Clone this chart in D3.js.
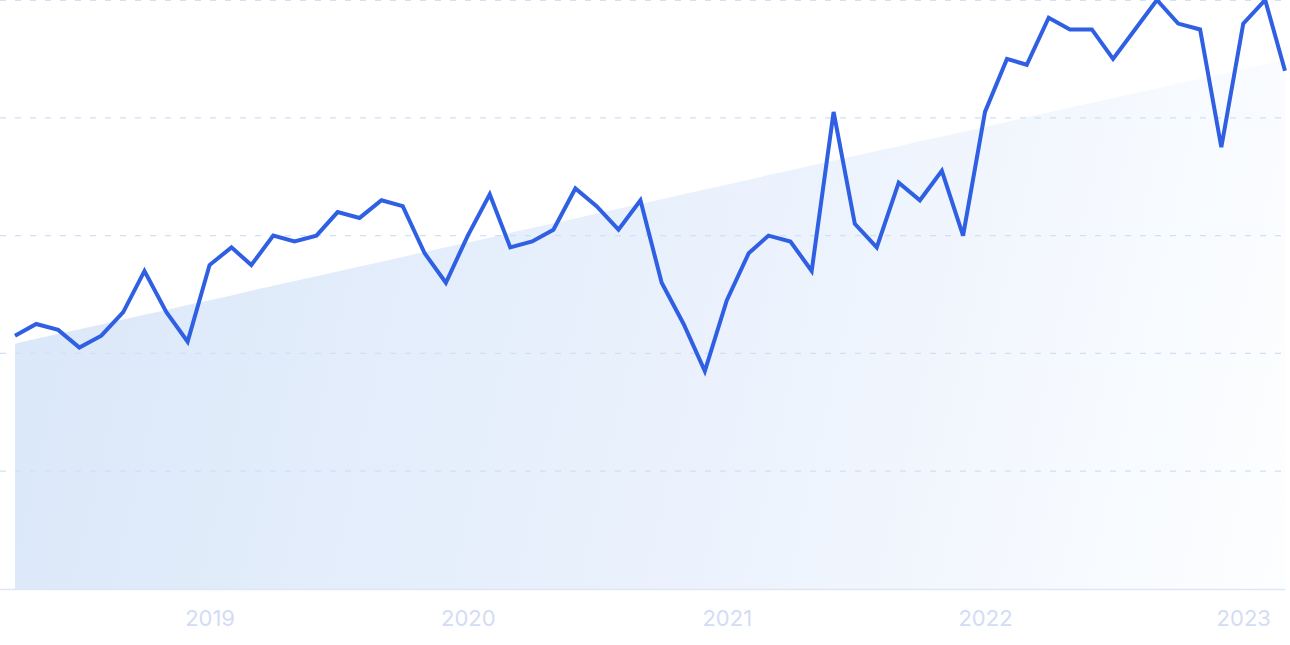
<!DOCTYPE html>
<html>
<head>
<meta charset="utf-8">
<script src="https://cdn.jsdelivr.net/npm/d3@7"></script>
<style>
  html, body { margin: 0; padding: 0; background: #ffffff; }
  svg { display: block; }
</style>
</head>
<body>
<svg id="chart" width="1290" height="645"></svg>
<script>
// ---- Data ----
const startMonth = "2018-04";
const values = [
  43, 45, 44, 41, 43, 47, 54, 47, 42,
  55, 58, 55, 60, 59, 60, 64, 63, 66, 65, 57, 52, 60,
  67, 58, 59, 61, 68, 65, 61, 66, 52, 45, 37, 49,
  57, 60, 59, 54, 81, 62, 58, 69, 66, 71, 60, 81,
  90, 89, 97, 95, 95, 90, 95, 100, 96, 95, 75, 96,
  100, 88
];
const tickLabels = ["2019", "2020", "2021", "2022", "2023"];
const gridValues = [20, 40, 60, 80, 100];

(function () {
// ---- Build ----
const parse = d3.timeParse("%Y-%m");
const t0 = parse(startMonth);
const data = values.map((v, i) => ({ date: d3.timeMonth.offset(t0, i), value: v, i }));

const padL = 15, padR = 1285, padT = 0, padB = 589;

const x = d3.scaleTime()
  .domain(d3.extent(data, d => d.date))
  .range([padL, padR]);
const y = d3.scaleLinear().domain([0, 100]).range([padB, padT]);

const svg = d3.select("#chart");
const defs = svg.append("defs");
const grad = defs.append("linearGradient")
  .attr("id", "areaGrad")
  .attr("gradientUnits", "userSpaceOnUse")
  .attr("x1", padL).attr("y1", 300)
  .attr("x2", padR).attr("y2", padB);
grad.append("stop").attr("offset", "0%").attr("stop-color", "#dbe8f9");
grad.append("stop").attr("offset", "55%").attr("stop-color", "#ebf2fd");
grad.append("stop").attr("offset", "100%").attr("stop-color", "#fdfeff");

// Linear regression trend
const mx = d3.mean(data, d => d.i), my = d3.mean(data, d => d.value);
const slope = d3.sum(data, d => (d.i - mx) * (d.value - my)) / d3.sum(data, d => (d.i - mx) ** 2);
const intercept = my - slope * mx;
const trend = data.map(d => ({ date: d.date, value: intercept + slope * d.i }));

svg.append("path")
  .datum(trend)
  .attr("fill", "url(#areaGrad)")
  .attr("d", d3.area().x(d => x(d.date)).y0(padB).y1(d => y(d.value)));

// Gridlines
svg.append("g").selectAll("line")
  .data(gridValues)
  .join("line")
  .attr("x1", 0).attr("x2", padR)
  .attr("y1", d => y(d) + (d === 100 ? 0.5 : 0)).attr("y2", d => y(d) + (d === 100 ? 0.5 : 0))
  .attr("stroke", "#cfe0f7")
  .attr("stroke-width", 1.2)
  .attr("stroke-dasharray", "6 9");

// Baseline
svg.append("line")
  .attr("x1", 0).attr("x2", padR)
  .attr("y1", padB + 0.5).attr("y2", padB + 0.5)
  .attr("stroke", "#dfe6f7").attr("stroke-width", 1.5);

// X axis labels
const xAxis = d3.axisBottom(x)
  .tickValues(tickLabels.map(s => d3.timeParse("%Y")(s)))
  .tickFormat(d3.timeFormat("%Y"))
  .tickSize(0).tickPadding(0);
const gx = svg.append("g").attr("transform", `translate(0,${padB})`).call(xAxis);
gx.select(".domain").remove();
gx.selectAll("text")
  .attr("y", 37)
  .attr("dy", 0)
  .attr("fill", "#d3dcf5")
  .style("font-family", "Inter, 'Noto Sans', sans-serif")
  .style("font-size", "22px");

// Line
svg.append("path")
  .datum(data)
  .attr("fill", "none")
  .attr("stroke", "#2f5fe3")
  .attr("stroke-width", 4)
  .attr("stroke-linejoin", "miter")
  .attr("d", d3.line().x(d => x(d.date)).y(d => y(d.value)));
})();
</script>
</body>
</html>
